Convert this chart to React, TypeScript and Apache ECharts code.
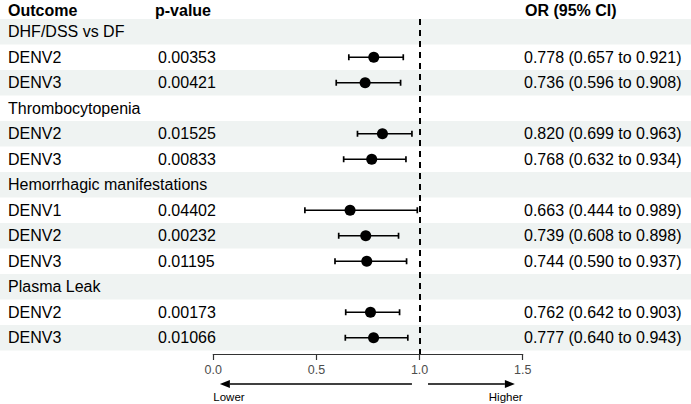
import React, { useEffect, useRef } from "react";
import * as echarts from "echarts";

const outcomes = [
  "DHF/DSS vs DF", "DENV2", "DENV3",
  "Thrombocytopenia", "DENV2", "DENV3",
  "Hemorrhagic manifestations", "DENV1", "DENV2", "DENV3",
  "Plasma Leak", "DENV2", "DENV3",
];
const pValues = ["", "0.00353", "0.00421", "", "0.01525", "0.00833", "", "0.04402", "0.00232", "0.01195", "", "0.00173", "0.01066"];
const orEst: (number | null)[] = [null, 0.778, 0.736, null, 0.82, 0.768, null, 0.663, 0.739, 0.744, null, 0.762, 0.777];
const ciLow: (number | null)[] = [null, 0.657, 0.596, null, 0.699, 0.632, null, 0.444, 0.608, 0.59, null, 0.642, 0.64];
const ciHigh: (number | null)[] = [null, 0.921, 0.908, null, 0.963, 0.934, null, 0.989, 0.898, 0.937, null, 0.903, 0.943];
const headers = ["Outcome", "p-value", "OR (95% CI)"];
const xTicks = { min: 0, max: 1.5, interval: 0.5 };
const refLine = 1;
const arrowLeft = [0.963, 0.032];
const arrowRight = [1.041, 1.462];
const arrowLabels = ["Lower", "Higher"];

const FONT = "'Liberation Sans', Arial, Helvetica, sans-serif";
const BAND = "#eff3f2";

export default function App() {
  const ref = useRef<HTMLDivElement>(null);
  useEffect(() => {
    document.body.style.margin = "0";
    const chart = echarts.init(ref.current!, null, { renderer: "svg" });
    const rowH = 25.5;
    const top = 19;
    const axisY = 354;
    const yMax = (axisY - top) / rowH;
    const colOutcome = 8;
    const colP = 158;
    const colOR = 524;

    const rowData = outcomes.map((_, i) => [0, i]);
    const barData: any[] = [];
    const dotData: any[] = [];
    outcomes.forEach((_, i) => {
      if (orEst[i] != null) {
        barData.push([ciLow[i], ciHigh[i], i]);
        dotData.push([orEst[i], i + 0.5]);
      }
    });

    chart.setOption({
      animation: false,
      grid: { left: 213.3, right: 168.3, top, bottom: 404 - axisY },
      xAxis: {
        type: "value",
        min: xTicks.min,
        max: xTicks.max,
        interval: xTicks.interval,
        axisLine: { show: true, onZero: false, lineStyle: { color: "#333", width: 1.2 } },
        axisTick: { show: true, length: 6, lineStyle: { color: "#333", width: 1.2 } },
        axisLabel: {
          color: "#4d4d4d",
          fontSize: 12.5,
          fontFamily: FONT,
          margin: 9,
          formatter: (v: number) => v.toFixed(1),
        },
        splitLine: { show: false },
      },
      yAxis: { type: "value", inverse: true, min: 0, max: yMax, show: false },
      series: [
        {
          type: "custom",
          z: 0,
          clip: false,
          silent: true,
          data: rowData,
          encode: { x: 0, y: 1 },
          renderItem: (params: any, api: any) => {
            const i = api.value(1);
            const y0 = api.coord([0, i])[1];
            const y1 = api.coord([0, i + 1])[1];
            const yc = (y0 + y1) / 2;
            const W = api.getWidth();
            const children: any[] = [];
            if (i % 2 === 0) {
              children.push({ type: "rect", shape: { x: 0, y: y0, width: W, height: y1 - y0 }, style: { fill: BAND } });
            }
            const txt = (x: number, t: string) => ({
              type: "text",
              x,
              y: yc,
              style: { text: t, fill: "#000", fontSize: 16, fontFamily: FONT, align: "left", verticalAlign: "middle" },
            });
            children.push(txt(colOutcome, outcomes[i]));
            if (pValues[i]) children.push(txt(colP, pValues[i]));
            if (orEst[i] != null) {
              children.push(
                txt(colOR, `${(orEst[i] as number).toFixed(3)} (${(ciLow[i] as number).toFixed(3)} to ${(ciHigh[i] as number).toFixed(3)})`)
              );
            }
            return { type: "group", children };
          },
        },
        {
          type: "custom",
          z: 2,
          silent: true,
          data: barData,
          encode: { x: [0, 1], y: 2 },
          renderItem: (params: any, api: any) => {
            const i = api.value(2);
            const p1 = api.coord([api.value(0), i + 0.5]);
            const p2 = api.coord([api.value(1), i + 0.5]);
            const st = { stroke: "#000", lineWidth: 1.7 };
            const cap = 3;
            return {
              type: "group",
              children: [
                { type: "line", shape: { x1: p1[0], y1: p1[1], x2: p2[0], y2: p2[1] }, style: st },
                { type: "line", shape: { x1: p1[0], y1: p1[1] - cap, x2: p1[0], y2: p1[1] + cap }, style: st },
                { type: "line", shape: { x1: p2[0], y1: p2[1] - cap, x2: p2[0], y2: p2[1] + cap }, style: st },
              ],
            };
          },
        },
        {
          type: "scatter",
          z: 3,
          silent: true,
          symbol: "circle",
          symbolSize: 11,
          itemStyle: { color: "#000", opacity: 1 },
          data: dotData,
          markLine: {
            silent: true,
            symbol: ["none", "none"],
            label: { show: false },
            lineStyle: { color: "#000", type: [6, 5], width: 2, opacity: 1 },
            data: [{ xAxis: refLine }],
          },
        },
      ],
    });

    const px = (v: number) => chart.convertToPixel({ xAxisIndex: 0 }, v) as number;
    const ay = 384;
    const ly = 397;
    const head = 10;
    const arrow = (from: number, to: number) => {
      const x1 = px(from);
      const x2 = px(to);
      const dir = x2 > x1 ? 1 : -1;
      const L = 10;
      const H = 4;
      return [
        { type: "line", shape: { x1, y1: ay, x2: x2 - dir * L, y2: ay }, style: { stroke: "#000", lineWidth: 1.3 } },
        {
          type: "polygon",
          shape: { points: [[x2, ay], [x2 - dir * L, ay - H], [x2 - dir * L, ay + H]] },
          style: { fill: "#000" },
        },
      ];
    };
    const hText = (x: number, t: string) => ({
      type: "text",
      x,
      y: head,
      style: { text: t, fill: "#000", fontSize: 16, fontWeight: "bold", fontFamily: FONT, align: "left", verticalAlign: "middle" },
    });
    chart.setOption({
      graphic: [
        hText(colOutcome, headers[0]),
        hText(155, headers[1]),
        hText(colOR + 1, headers[2]),
        ...arrow(arrowLeft[0], arrowLeft[1]),
        ...arrow(arrowRight[0], arrowRight[1]),
        {
          type: "text",
          x: px(xTicks.min),
          y: ly,
          style: { text: arrowLabels[0], fill: "#000", fontSize: 11.5, fontFamily: FONT, align: "left", verticalAlign: "middle" },
        },
        {
          type: "text",
          x: px(xTicks.max),
          y: ly,
          style: { text: arrowLabels[1], fill: "#000", fontSize: 11.5, fontFamily: FONT, align: "right", verticalAlign: "middle" },
        },
      ],
    });

    return () => chart.dispose();
  }, []);
  return <div ref={ref} style={{ width: 691, height: 404 }} />;
}
